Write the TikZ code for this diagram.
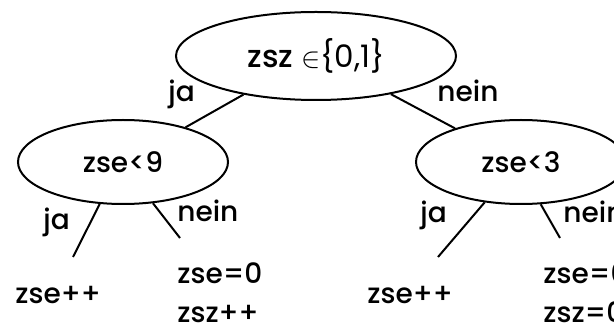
\documentclass[tikz,border=0pt]{standalone}
\usepackage{fontspec}
\setmainfont{Poppins}[UprightFont={* Medium}]
\usetikzlibrary{shapes.geometric}
\begin{document}
\begin{tikzpicture}[x=0.5pt,y=-0.5pt,
  cond/.style={draw, ellipse, line width=1pt, inner sep=0pt, font=\fontsize{14}{16}\selectfont},
  lbl/.style={anchor=base west, inner sep=0pt, font=\fontsize{14}{16}\selectfont},
  edge/.style={line width=1pt}]
\useasboundingbox (0,0) rectangle (614,325);
% condition nodes
\node[cond, minimum width=140pt, minimum height=44pt, font=\fontsize{15.5}{18}\selectfont] (top) at (316,56) {zsz {\fontspec{Poppins}$\in$\{0,1\}}};
\node[cond, minimum width=105pt, minimum height=42pt] (left) at (123,162) {zse<9};
\node[cond, minimum width=105pt, minimum height=42pt] (right) at (521,162) {zse<3};
% connectors between conditions
\draw[edge] (top.208) -- (left.29);
\draw[edge] (top.333) -- (right.153);
% free ends of lower connectors
\coordinate (lja) at (73,257);
\coordinate (lnein) at (180,238);
\coordinate (rja) at (438,257);
\coordinate (rnein) at (560,238);
\draw[edge] (left.241) -- (lja);
\draw[edge] (left.306) -- (lnein);
\draw[edge] (right.228) -- (rja);
\draw[edge] (right.295) -- (rnein);
% branch labels
\node[lbl] (tja) at (168,102) {ja};
\node[lbl] (tnein) at (437,102) {nein};
\node[lbl] (lja-l) at (43,230) {ja};
\node[lbl] (lnein-l) at (177,222) {nein};
\node[lbl] (rja-l) at (420,223) {ja};
\node[lbl] (rnein-l) at (563,223) {nein};
% leaves
\node[lbl] (leaf1) at (15,303) {zse++};
\node[lbl] (leaf2a) at (177,283) {zse=0};
\node[lbl] (leaf2b) at (177,322) {zsz++};
\node[lbl] (leaf3) at (367,303) {zse++};
\node[lbl] (leaf4a) at (543,283) {zse=0};
\node[lbl] (leaf4b) at (543,322) {zsz=0};
\end{tikzpicture}
\end{document}
